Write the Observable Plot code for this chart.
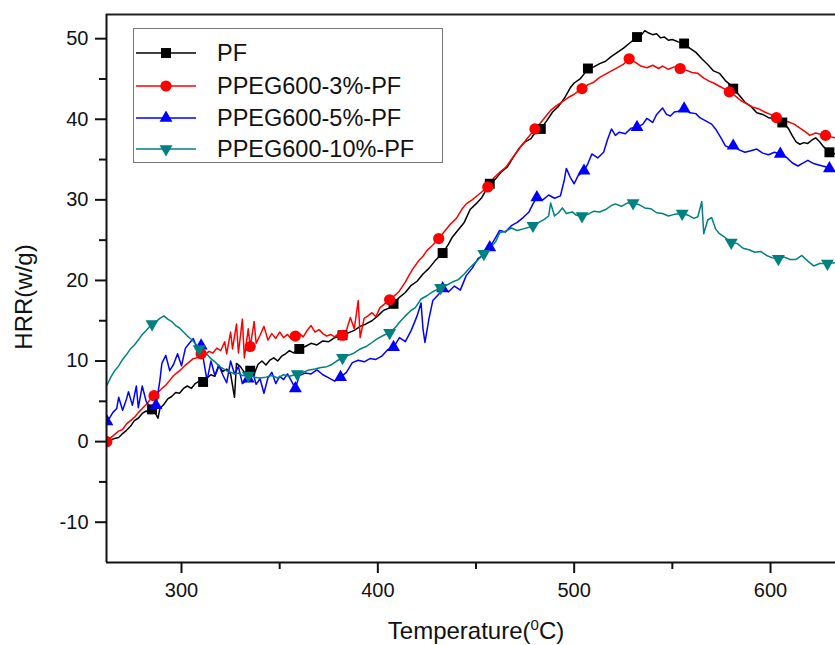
<!DOCTYPE html>
<html><head><meta charset="utf-8">
<script src="https://cdn.jsdelivr.net/npm/d3@7"></script>
<script src="https://cdn.jsdelivr.net/npm/@observablehq/plot@0.6"></script>
<style>
body{margin:0;background:#fff;font-family:"Liberation Sans",Arial,sans-serif;}
#wrap{position:relative;width:835px;height:645px;overflow:hidden;background:#fff;}
#wrap svg{position:absolute;left:0;top:0;}
.title{position:absolute;font-size:24px;line-height:24px;color:#111;white-space:nowrap;}
.title sup{font-size:15px;vertical-align:9px;line-height:0;}
#legend{position:absolute;left:133px;top:28px;width:308px;height:133px;border:1.5px solid #777;background:#fff;}
.lg{position:absolute;left:0;height:30px;}
.lg svg{position:absolute;left:14px;top:0;}
.lg span{position:absolute;left:83px;top:1px;font-size:23.5px;line-height:28px;color:#111;white-space:nowrap;}
</style></head><body><div id="wrap"></div>
<script>
const seriesNames = ["PF", "PPEG600-3%-PF", "PPEG600-5%-PF", "PPEG600-10%-PF"];
const seriesColors = ["#000000", "#ff0000", "#0000ff", "#008080"];

const pfData = [[262,0.0],[264,0.2],[266,0.4],[268,0.5],[270,1.0],[272,1.4],[274,1.9],[276,2.6],[278,2.9],[280,3.5],[282,3.8],[284,3.5],[285,4.0],[287,3.4],[288,2.9],[289,4.1],[291,4.6],[293,5.3],[295,5.6],[297,6.1],[299,6.0],[301,6.6],[303,6.9],[305,6.6],[307,7.2],[309,7.5],[311,7.4],[313,7.9],[315,8.3],[317,8.1],[319,9.4],[321,8.7],[323,9.0],[325,8.4],[327,5.5],[328,9.7],[330,9.3],[332,8.6],[335,8.8],[337,8.4],[339,9.6],[341,10.0],[343,9.5],[345,10.1],[347,10.4],[349,10.0],[351,10.6],[353,10.9],[355,11.3],[357,11.0],[360,11.5],[363,11.8],[366,12.2],[369,12.0],[372,12.5],[375,12.4],[378,12.9],[382,13.2],[385,13.5],[388,13.8],[391,14.3],[394,14.6],[397,15.0],[400,15.6],[403,16.3],[406,16.6],[408,17.1],[411,17.9],[414,18.5],[417,19.4],[420,19.9],[423,20.8],[426,21.5],[429,22.4],[433,23.4],[436,24.5],[438,25.4],[441,26.3],[444,27.2],[447,28.8],[450,29.5],[453,30.3],[457,32.0],[460,32.6],[463,33.5],[466,34.1],[469,35.3],[472,36.4],[475,37.2],[478,37.6],[480,38.3],[483,38.8],[486,39.8],[489,40.9],[492,41.6],[495,42.6],[498,43.9],[500,44.5],[503,45.0],[505,45.6],[507,46.3],[510,46.5],[513,46.9],[516,47.2],[519,47.8],[522,48.3],[525,48.8],[528,49.4],[530,49.8],[532,50.2],[534,50.4],[536,51.0],[538,50.7],[540,50.5],[542,50.6],[544,50.1],[546,50.2],[548,49.8],[550,49.9],[553,49.6],[556,49.4],[559,48.8],[562,48.3],[565,47.5],[568,46.8],[571,46.0],[574,45.7],[577,44.8],[579,44.4],[581,43.8],[584,43.0],[587,42.1],[590,41.6],[593,40.8],[596,40.6],[599,40.2],[602,40.1],[604,39.8],[606,39.6],[609,38.9],[611,38.0],[613,37.2],[615,36.9],[617,37.1],[619,37.0],[621,37.4],[623,37.7],[625,37.2],[627,36.6],[630,35.9],[633,35.7]];

const p3Data = [[262,0.0],[264,0.5],[266,0.9],[268,1.3],[270,1.5],[272,2.2],[274,2.6],[276,3.0],[278,3.6],[280,4.1],[282,4.6],[284,5.2],[286,5.7],[288,6.1],[290,6.6],[292,7.0],[294,7.6],[296,8.2],[298,8.6],[300,9.0],[302,9.5],[304,9.9],[306,10.3],[308,10.4],[310,10.9],[312,10.8],[314,11.2],[316,11.0],[318,11.6],[320,11.3],[322,12.4],[323,10.9],[325,13.6],[326,11.5],[328,14.6],[329,11.0],[331,15.2],[332,10.4],[334,14.0],[335,11.8],[337,14.9],[338,12.2],[340,13.2],[342,14.3],[344,12.6],[346,13.4],[348,12.8],[350,13.6],[352,12.9],[354,13.3],[356,12.7],[358,13.1],[360,13.4],[362,13.0],[364,13.8],[366,14.4],[368,13.6],[370,13.9],[372,13.4],[374,13.1],[376,13.3],[378,13.0],[380,13.4],[382,13.2],[384,13.8],[386,15.4],[388,14.0],[390,17.5],[391,12.9],[393,15.3],[395,15.6],[397,16.0],[399,15.5],[401,16.6],[403,17.0],[406,17.6],[409,18.2],[411,18.7],[414,19.8],[416,20.7],[418,21.5],[421,22.5],[423,23.0],[425,23.7],[428,24.4],[431,25.2],[434,26.1],[437,27.0],[440,27.7],[443,28.9],[445,29.5],[448,30.0],[451,30.6],[453,31.0],[456,31.6],[459,32.7],[462,33.4],[465,34.0],[468,35.0],[471,36.0],[474,37.0],[477,37.9],[480,38.8],[483,39.6],[486,40.5],[488,41.1],[491,41.7],[494,42.2],[497,42.7],[500,43.1],[502,43.5],[504,43.8],[507,44.3],[510,44.6],[513,45.2],[516,45.6],[519,46.0],[522,46.4],[525,46.8],[528,47.5],[531,47.1],[534,46.6],[537,46.4],[540,46.7],[543,46.3],[545,46.6],[548,46.2],[551,46.5],[554,46.3],[557,46.1],[560,45.8],[563,45.7],[566,45.1],[569,44.7],[571,44.5],[574,44.1],[577,43.7],[579,43.4],[582,42.9],[585,42.3],[588,41.9],[591,41.5],[594,41.3],[597,40.9],[600,40.6],[603,40.2],[606,39.9],[609,39.7],[612,39.4],[615,38.9],[618,38.4],[620,38.0],[623,38.3],[626,38.1],[628,38.0],[631,37.8],[633,37.7]];

const p5Data = [[262,2.5],[263,2.8],[265,3.6],[267,4.1],[268,5.5],[270,3.9],[272,5.3],[273,6.2],[275,4.5],[277,6.9],[278,4.2],[280,6.9],[282,5.0],[284,4.3],[287,4.5],[289,7.6],[290,9.7],[292,10.7],[294,8.8],[296,9.6],[298,10.9],[300,9.4],[302,11.6],[304,12.2],[306,12.8],[308,11.5],[310,11.9],[312,9.0],[313,7.6],[315,10.0],[317,8.2],[319,9.5],[321,8.3],[323,7.3],[325,10.0],[327,8.4],[329,9.3],[331,7.2],[334,7.8],[336,8.9],[338,7.1],[340,7.8],[342,6.0],[344,7.9],[346,8.6],[348,7.2],[350,8.1],[352,7.7],[354,8.4],[356,7.5],[358,6.6],[360,8.2],[363,8.5],[366,8.4],[369,8.9],[372,8.3],[375,7.9],[378,7.5],[381,8.0],[384,8.6],[387,9.8],[390,10.1],[393,9.9],[396,10.3],[399,10.2],[402,10.6],[405,11.4],[408,11.7],[411,12.9],[414,12.4],[417,13.8],[420,15.6],[422,17.2],[423,14.0],[424,12.3],[426,15.2],[428,17.5],[431,18.3],[433,19.0],[436,18.6],[439,19.3],[442,18.8],[445,20.6],[448,21.5],[451,22.7],[454,23.2],[457,24.1],[460,25.3],[462,26.2],[465,26.0],[468,26.8],[471,27.2],[474,27.8],[477,28.5],[479,29.5],[481,30.3],[484,30.0],[487,30.6],[490,30.2],[493,30.5],[495,32.5],[496,33.9],[498,32.8],[500,32.0],[502,33.0],[505,33.6],[507,34.5],[509,35.7],[512,35.2],[515,35.9],[517,37.5],[519,38.8],[521,38.0],[523,38.4],[526,38.2],[529,38.9],[532,39.0],[535,39.4],[537,40.1],[540,39.6],[542,40.6],[545,41.4],[547,40.6],[549,40.4],[551,40.9],[553,41.0],[556,41.3],[559,40.8],[562,40.7],[564,40.2],[567,39.8],[570,39.4],[572,38.8],[575,37.6],[577,36.7],[579,36.5],[581,36.7],[584,36.2],[587,35.9],[590,36.1],[593,36.3],[596,35.8],[599,35.6],[602,35.9],[605,35.7],[608,35.3],[611,34.6],[614,34.2],[616,34.5],[619,34.9],[622,34.5],[625,34.3],[628,34.1],[630,33.9],[633,33.6]];

const p10Data = [[262,7.0],[264,8.0],[266,8.8],[268,9.4],[270,10.2],[272,10.8],[274,11.5],[276,12.0],[278,12.6],[280,13.3],[282,13.8],[285,14.6],[287,14.9],[289,15.3],[291,15.6],[293,15.2],[295,14.9],[297,14.4],[299,14.1],[301,13.6],[303,13.1],[305,12.7],[307,12.2],[309,11.5],[311,11.0],[313,10.8],[315,10.3],[317,9.9],[319,9.4],[321,9.1],[323,8.8],[325,8.6],[327,8.4],[329,8.5],[331,8.2],[334,8.2],[337,8.0],[340,7.9],[343,8.0],[346,8.2],[349,7.9],[352,8.3],[355,8.1],[359,8.4],[362,8.6],[365,8.9],[368,9.0],[371,9.2],[374,9.3],[376,9.5],[379,10.0],[382,10.4],[385,10.7],[388,11.0],[391,11.5],[394,11.8],[397,12.3],[400,12.8],[403,13.2],[406,13.5],[409,14.2],[411,14.8],[414,15.6],[417,16.3],[419,16.6],[422,17.7],[425,18.1],[428,18.6],[432,19.1],[435,19.4],[438,19.8],[441,20.1],[444,20.8],[447,21.6],[450,22.3],[454,23.3],[457,24.0],[460,24.8],[462,25.9],[465,26.1],[468,26.5],[471,26.2],[474,26.4],[477,26.6],[479,26.8],[482,27.2],[485,27.6],[487,28.0],[488,29.6],[490,28.0],[492,28.4],[494,29.0],[496,28.3],[499,28.5],[501,28.1],[504,28.0],[507,28.2],[510,28.6],[513,28.5],[516,28.8],[519,29.3],[521,29.5],[524,29.2],[527,29.6],[530,29.6],[533,29.4],[536,29.0],[539,28.9],[542,28.4],[545,28.3],[548,28.0],[551,28.2],[555,28.3],[558,28.1],[561,27.7],[563,27.9],[565,29.8],[566,25.8],[568,27.5],[570,27.8],[572,26.4],[574,25.8],[577,25.3],[580,24.7],[583,24.6],[586,24.0],[589,23.8],[592,23.5],[595,23.6],[598,23.1],[601,22.8],[604,22.7],[607,22.9],[610,22.6],[613,22.6],[616,23.1],[619,22.4],[622,21.8],[625,22.1],[629,22.1],[633,22.2]];

const pfMarkerT  = [285,311,335,360,382,408,433,457,483,507,532,556,581,606,630];
const p3MarkerT  = [262,286,310,335,358,382,406,431,456,480,504,528,554,579,603,628];
const p5MarkerT  = [262,287,310,334,358,381,408,433,457,481,505,532,556,581,605,630];
const p10MarkerT = [285,309,334,359,382,406,432,454,479,504,530,555,580,604,629];

const xDomain = [261.8, 633.1];
const yDomain = [-15, 53];
const xTicks = [300, 400, 500, 600];
const xMinorTicks = [350, 450, 550];
const yTicks = [-10, 0, 10, 20, 30, 40, 50];
const yMinorTicks = [-5, 5, 15, 25, 35, 45];
const xTitle = "Temperature(";
const xTitleSup = "0";
const xTitleEnd = "C)";
const yTitle = "HRR(w/g)";

const allData = [pfData, p3Data, p5Data, p10Data];
const allMarkerT = [pfMarkerT, p3MarkerT, p5MarkerT, p10MarkerT];

const sqrt3 = Math.sqrt(3);
const triangleDown = {
  draw(context, size) {
    const y = -Math.sqrt(size / (sqrt3 * 3));
    context.moveTo(0, -y * 2);
    context.lineTo(-sqrt3 * y, y);
    context.lineTo(sqrt3 * y, y);
    context.closePath();
  }
};
const symbols = ["square", "circle", "triangle", triangleDown];
const radii = [5.6, 5.6, 4.8, 4.8];

const rows = [];
allData.forEach((arr, i) => arr.forEach(([T, v]) => rows.push({T, v, s: seriesNames[i]})));

const marks = [
  Plot.line(rows, {x: "T", y: "v", z: "s", stroke: d => seriesColors[seriesNames.indexOf(d.s)], strokeWidth: 1.5, clip: true}),
];
allData.forEach((arr, i) => {
  const pts = arr.filter(([T]) => allMarkerT[i].includes(T)).map(([T, v]) => ({T, v}));
  marks.push(Plot.dot(pts, {x: "T", y: "v", symbol: symbols[i], r: radii[i], fill: seriesColors[i], stroke: "none", clip: true}));
});
const fmt = d => String(d);
marks.push(
  Plot.axisX({ticks: xTicks, tickSize: 11, tickPadding: 9, fontSize: 20, strokeWidth: 2, tickFormat: fmt, label: null}),
  Plot.axisX({ticks: xMinorTicks, tickSize: 7, tickFormat: () => "", strokeWidth: 2, label: null}),
  Plot.axisY({ticks: yTicks, tickSize: 11, tickPadding: 7, fontSize: 20, strokeWidth: 2, tickFormat: fmt, label: null}),
  Plot.axisY({ticks: yMinorTicks, tickSize: 7, tickFormat: () => "", strokeWidth: 2, label: null}),
  Plot.ruleY([yDomain[0]], {stroke: "#111", strokeWidth: 2}),
  Plot.ruleY([yDomain[1]], {stroke: "#222", strokeWidth: 2}),
  Plot.ruleX([xDomain[0]], {stroke: "#111", strokeWidth: 2})
);

const chart = Plot.plot({
  width: 835,
  height: 645,
  marginLeft: 106,
  marginRight: 0,
  marginTop: 14,
  marginBottom: 83,
  x: {domain: xDomain},
  y: {domain: yDomain},
  style: {fontFamily: "'Liberation Sans', Arial, sans-serif", background: "#fff", color: "#111", overflow: "visible"},
  marks
});

const wrap = document.getElementById("wrap");
wrap.appendChild(chart);

const xt = document.createElement("div");
xt.className = "title";
xt.style.left = "476px";
xt.style.top = "619px";
xt.style.transform = "translateX(-50%)";
xt.appendChild(document.createTextNode(xTitle));
const sup = document.createElement("sup");
sup.textContent = xTitleSup;
xt.appendChild(sup);
xt.appendChild(document.createTextNode(xTitleEnd));
wrap.appendChild(xt);

const yt = document.createElement("div");
yt.className = "title";
yt.style.left = "24px";
yt.style.top = "297px";
yt.style.transform = "translate(-50%,-50%) rotate(-90deg)";
yt.textContent = yTitle;
wrap.appendChild(yt);

// legend
const legend = document.createElement("div");
legend.id = "legend";
const entryTops = [24, 57, 89, 120];
const ns = "http://www.w3.org/2000/svg";
seriesNames.forEach((name, i) => {
  const e = document.createElement("div");
  e.className = "lg";
  e.style.top = (entryTops[i] - 15) + "px";
  const s = document.createElementNS(ns, "svg");
  s.setAttribute("width", "64"); s.setAttribute("height", "30");
  const ln = document.createElementNS(ns, "line");
  ln.setAttribute("x1", "2"); ln.setAttribute("x2", "62");
  ln.setAttribute("y1", "15"); ln.setAttribute("y2", "15");
  ln.setAttribute("stroke", seriesColors[i]); ln.setAttribute("stroke-width", "1.5");
  s.appendChild(ln);
  const p = document.createElementNS(ns, "path");
  const sym = typeof symbols[i] === "string" ? {square: d3.symbolSquare, circle: d3.symbolCircle, triangle: d3.symbolTriangle}[symbols[i]] : symbols[i];
  p.setAttribute("d", d3.symbol(sym, radii[i] * radii[i] * Math.PI)());
  p.setAttribute("transform", "translate(32,15)");
  p.setAttribute("fill", seriesColors[i]);
  s.appendChild(p);
  e.appendChild(s);
  const t = document.createElement("span");
  t.textContent = name;
  e.appendChild(t);
  legend.appendChild(e);
});
wrap.appendChild(legend);
</script>
</body></html>
